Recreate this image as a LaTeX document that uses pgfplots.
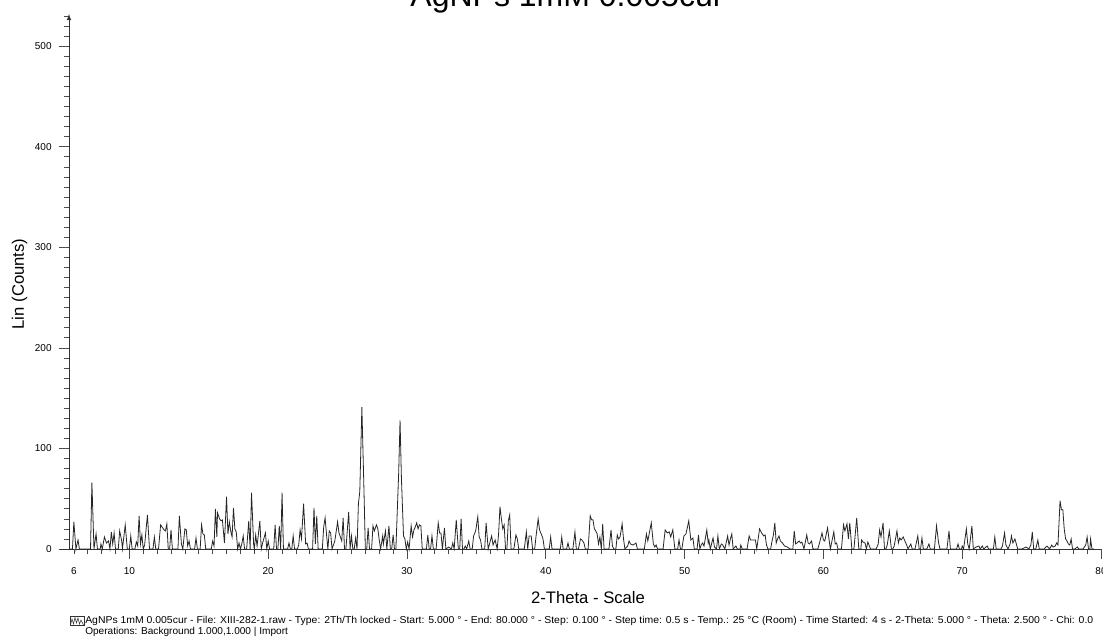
\documentclass[border=0pt]{standalone}
\usepackage{pgfplots}
\pgfplotsset{compat=1.18}
\usepackage{fontspec}
\setmainfont{Liberation Sans}
\usepackage{graphicx}
\begin{document}
\begin{tikzpicture}[x=0.75pt,y=-0.75pt]
\useasboundingbox (0,0) rectangle (1103,643);
\clip (0,0) rectangle (1103,643);
\begin{axis}[
  at={(51.75pt,-411.75pt)}, anchor=south west,
  scale only axis, width=774pt, height=401.25pt,
  xmin=5.65, xmax=80, ymin=0, ymax=532,
  axis x line=bottom, axis y line=left,
  x axis line style={-},
  y axis line style={-latex},
  axis line style={black!80, line width=0.6pt},
  xtick={10,20,...,80},
  extra x ticks={6},
  extra x tick style={major tick length=4pt, xticklabel style={yshift=-3.5pt}},
  minor xtick={6,...,79},
  ytick={0,100,...,500},
  minor ytick={10,20,...,530},
  tick align=outside,
  major tick length=7.5pt, minor tick length=4pt,
  tick style={black!70, line width=0.5pt},
  ticklabel style={font=\fontsize{7.5}{9}\selectfont},
  xticklabel style={yshift=-3pt},
  yticklabel style={xshift=-2pt},
  /pgf/number format/assume math mode=true,
  clip=false,
]
\draw[black!80, line width=0.6pt] (axis cs:5,0) -- (axis cs:5.65,0);
\addplot[black!85, line width=0.6pt] coordinates {
(5.7,0) (5.9,0) (6.0,27) (6.15,0) (6.3,9) (6.4,0) (7.2,0) (7.3,66) (7.45,0) (7.6,15) (7.7,0) (7.9,0) (7.95,5) (8.05,0) (8.2,12) (8.35,6) (8.5,8) (8.6,0) (8.7,17) (8.8,5) (8.9,16) (9.0,0) (9.2,0) (9.3,18) (9.45,8) (9.5,0) (9.7,24) (9.85,0) (10.0,0) (10.1,13) (10.2,0) (10.4,0) (10.5,7) (10.6,3) (10.7,33) (10.8,5) (10.9,14) (11.0,0) (11.1,4) (11.3,34) (11.45,0) (11.7,0) (11.8,12) (11.9,0) (12.1,0) (12.25,24) (12.4,21) (12.5,19) (12.6,18) (12.7,25) (12.8,0) (12.9,0) (13.0,19) (13.1,0) (13.5,0) (13.6,33) (13.75,5) (13.85,0) (14.0,20) (14.1,19) (14.2,3) (14.3,8) (14.4,0) (14.7,0) (14.8,11) (14.9,0) (15.1,0) (15.2,24) (15.3,15) (15.4,14) (15.5,0) (15.9,0) (16.0,8) (16.1,3) (16.2,40) (16.3,12) (16.35,36) (16.5,30) (16.6,28) (16.7,29) (16.85,6) (17.0,52) (17.1,15) (17.2,27) (17.3,18) (17.4,12) (17.5,41) (17.6,20) (17.7,17) (17.8,0) (17.9,6) (18.0,0) (18.1,5) (18.2,13) (18.3,0) (18.45,0) (18.6,28) (18.7,0) (18.8,56) (18.95,5) (19.0,0) (19.1,14) (19.2,3) (19.4,28) (19.5,0) (19.6,6) (19.8,16) (19.9,0) (20.0,8) (20.1,0) (20.4,0) (20.5,24) (20.6,0) (20.7,0) (20.8,23) (20.9,0) (21.0,56) (21.1,0) (21.4,0) (21.5,6) (21.6,0) (21.7,0) (21.8,13) (21.9,0) (22.1,0) (22.2,4) (22.3,19) (22.4,10) (22.55,45) (22.7,5) (22.8,6) (22.9,0) (23.2,0) (23.3,41) (23.4,5) (23.5,33) (23.6,0) (23.9,0) (24.0,22) (24.1,31) (24.2,15) (24.3,0) (24.4,18) (24.5,16) (24.6,0) (24.8,8) (25.0,27) (25.1,16) (25.2,12) (25.3,8) (25.4,31) (25.5,0) (25.6,0) (25.8,37) (25.9,0) (26.0,13) (26.1,0) (26.2,0) (26.3,11) (26.4,0) (26.5,45) (26.6,57) (26.75,141) (26.9,59) (27.0,0) (27.1,0) (27.2,21) (27.3,0) (27.45,0) (27.55,23) (27.65,18) (27.8,24) (27.9,20) (28.0,9) (28.1,0) (28.25,13) (28.3,5) (28.45,18) (28.55,0) (28.7,23) (28.8,0) (28.9,0) (29.0,14) (29.1,0) (29.2,0) (29.4,75) (29.5,128) (29.6,70) (29.75,13) (29.85,10) (29.95,0) (30.05,7) (30.15,0) (30.3,23) (30.4,12) (30.5,19) (30.6,22) (30.7,26) (30.8,20) (30.9,24) (31.0,23) (31.1,0) (31.4,0) (31.5,14) (31.6,0) (31.7,0) (31.8,13) (31.9,0) (32.1,0) (32.25,26) (32.35,16) (32.45,16) (32.55,0) (32.7,21) (32.8,0) (33.0,2) (33.2,0) (33.3,6) (33.4,0) (33.55,29) (33.7,0) (33.8,0) (33.9,30) (34.0,0) (34.1,0) (34.2,3) (34.3,0) (34.45,8) (34.55,0) (34.7,0) (34.8,13) (34.95,18) (35.1,32) (35.2,12) (35.3,9) (35.4,0) (35.6,0) (35.7,26) (35.85,0) (36.0,8) (36.1,13) (36.2,4) (36.35,9) (36.5,0) (36.6,15) (36.7,42) (36.8,30) (36.9,20) (37.0,24) (37.1,0) (37.2,0) (37.3,28) (37.4,34) (37.5,0) (37.7,0) (37.85,14) (37.95,10) (38.05,0) (38.45,0) (38.6,17) (38.7,0) (38.8,13) (38.95,13) (39.05,0) (39.2,0) (39.3,13) (39.45,30) (39.55,19) (39.7,14) (39.8,10) (39.9,0) (40.25,0) (40.35,12) (40.45,0) (41.05,0) (41.15,12) (41.25,0) (41.5,0) (41.6,6) (41.7,0) (41.95,0) (42.1,17) (42.2,0) (42.35,0) (42.5,10) (42.6,9) (42.75,6) (42.85,0) (43.05,0) (43.2,33) (43.3,29) (43.4,29) (43.5,20) (43.6,18) (43.7,15) (43.8,5) (43.9,12) (44.0,0) (44.1,25) (44.2,0) (44.55,0) (44.7,19) (44.8,3) (44.9,0) (45.05,0) (45.15,14) (45.25,10) (45.35,12) (45.5,25) (45.6,10) (45.7,0) (45.9,3) (46.0,8) (46.1,5) (46.3,4) (46.5,6) (46.6,0) (47.1,0) (47.25,15) (47.35,8) (47.6,26) (47.75,5) (47.85,2) (47.95,4) (48.05,0) (48.45,0) (48.6,19) (48.75,16) (48.9,17) (49.0,12) (49.15,19) (49.3,0) (49.5,0) (49.6,9) (49.7,0) (49.8,0) (49.95,13) (50.1,15) (50.3,28) (50.45,9) (50.6,11) (50.7,0) (50.9,0) (51.0,14) (51.1,0) (51.2,4) (51.3,6) (51.4,3) (51.6,19) (51.7,6) (51.75,9) (51.85,0) (52.05,11) (52.15,2) (52.3,0) (52.4,13) (52.5,0) (52.65,5) (52.75,4) (52.9,0) (53.1,13) (53.2,4) (53.3,10) (53.4,15) (53.5,0) (53.7,3) (53.8,0) (54.0,0) (54.05,4) (54.15,0) (54.5,0) (54.65,13) (54.75,9) (54.9,9) (55.1,9) (55.2,0) (55.4,20) (55.55,16) (55.7,13) (55.8,14) (55.9,4) (56.0,0) (56.2,0) (56.3,8) (56.4,14) (56.5,26) (56.6,6) (56.7,10) (56.8,13) (56.9,8) (57.05,6) (57.2,3) (57.4,2) (57.6,0) (57.8,0) (57.9,18) (58.0,5) (58.1,6) (58.25,8) (58.35,6) (58.45,7) (58.6,0) (58.8,14) (58.9,6) (59.0,5) (59.15,8) (59.25,0) (59.6,0) (59.7,5) (59.9,16) (60.0,9) (60.1,8) (60.3,21) (60.45,5) (60.5,0) (60.75,17) (60.85,5) (60.95,6) (61.05,0) (61.3,0) (61.45,24) (61.55,18) (61.7,25) (61.8,10) (61.9,26) (62.05,0) (62.2,0) (62.4,31) (62.55,0) (62.7,0) (62.75,9) (62.85,7) (63.0,6) (63.1,0) (63.2,7) (63.4,0) (63.8,0) (63.95,5) (64.05,19) (64.15,12) (64.3,26) (64.4,0) (64.5,0) (64.6,4) (64.75,18) (64.9,0) (65.0,0) (65.1,3) (65.3,18) (65.4,6) (65.5,11) (65.6,9) (65.75,12) (65.9,7) (66.0,4) (66.1,0) (66.3,5) (66.4,0) (66.6,0) (66.8,13) (66.9,0) (67.0,0) (67.1,11) (67.2,0) (67.45,0) (67.6,5) (67.7,0) (68.0,0) (68.15,23) (68.3,6) (68.4,0) (68.9,0) (69.05,18) (69.15,0) (69.6,0) (69.7,5) (69.8,0) (69.95,0) (70.0,3) (70.1,0) (70.3,20) (70.4,5) (70.5,0) (70.55,5) (70.7,23) (70.8,0) (71.0,2) (71.2,3) (71.3,0) (71.45,3) (71.55,0) (71.8,3) (71.9,0) (72.25,0) (72.35,12) (72.45,0) (72.8,0) (72.9,3) (73.05,16) (73.15,4) (73.3,0) (73.45,5) (73.55,13) (73.65,6) (73.8,10) (73.9,5) (74.0,0) (74.3,0) (74.6,2) (74.8,0) (74.95,4) (75.05,17) (75.15,0) (75.3,0) (75.45,9) (75.55,0) (75.9,0) (76.1,3) (76.3,0) (76.45,4) (76.55,2) (76.7,3) (76.8,6) (76.9,4) (77.05,48) (77.15,39) (77.25,39) (77.35,20) (77.45,10) (77.55,8) (77.65,5) (77.75,4) (77.85,10) (77.95,0) (78.1,0) (78.3,2) (78.4,0) (78.7,0) (78.9,4) (79.0,12) (79.1,0) (79.2,0) (79.25,10) (79.35,0) (79.5,0)
};
\end{axis}
% title (partly cut off at the top, as in the reference)
\node[anchor=base, font=\fontsize{24}{28}\selectfont] at (567,6) {AgNPs 1mM 0.005cur};
% axis labels
\node[anchor=base, font=\fontsize{12.5}{15}\selectfont] at (588,603) {2-Theta - Scale};
\node[rotate=90, font=\fontsize{12.5}{15}\selectfont] at (19.5,284) {Lin (Counts)};
% footer
\draw[black!80, line width=0.4pt] (70,616.5) rectangle (84,625);
\draw[black!80, line width=0.4pt] (70.5,625) -- (72,619) -- (73.5,624) -- (75,617.5) -- (76.5,623) -- (78,618) -- (79.5,624) -- (81,620) -- (83.5,625);
\node[anchor=base west, inner sep=0pt, font=\fontsize{7.5}{9}\selectfont] at (85,623.3) {\resizebox{756pt}{\height}{AgNPs 1mM 0.005cur - File: XIII-282-1.raw - Type: 2Th/Th locked - Start: 5.000 ° - End: 80.000 ° - Step: 0.100 ° - Step time: 0.5 s - Temp.: 25 °C (Room) - Time Started: 4 s - 2-Theta: 5.000 ° - Theta: 2.500 ° - Chi: 0.0}};
\node[anchor=base west, inner sep=0pt, font=\fontsize{7.5}{9}\selectfont] at (85,634) {\resizebox{152pt}{\height}{Operations: Background 1.000,1.000 | Import}};
\end{tikzpicture}
\end{document}
